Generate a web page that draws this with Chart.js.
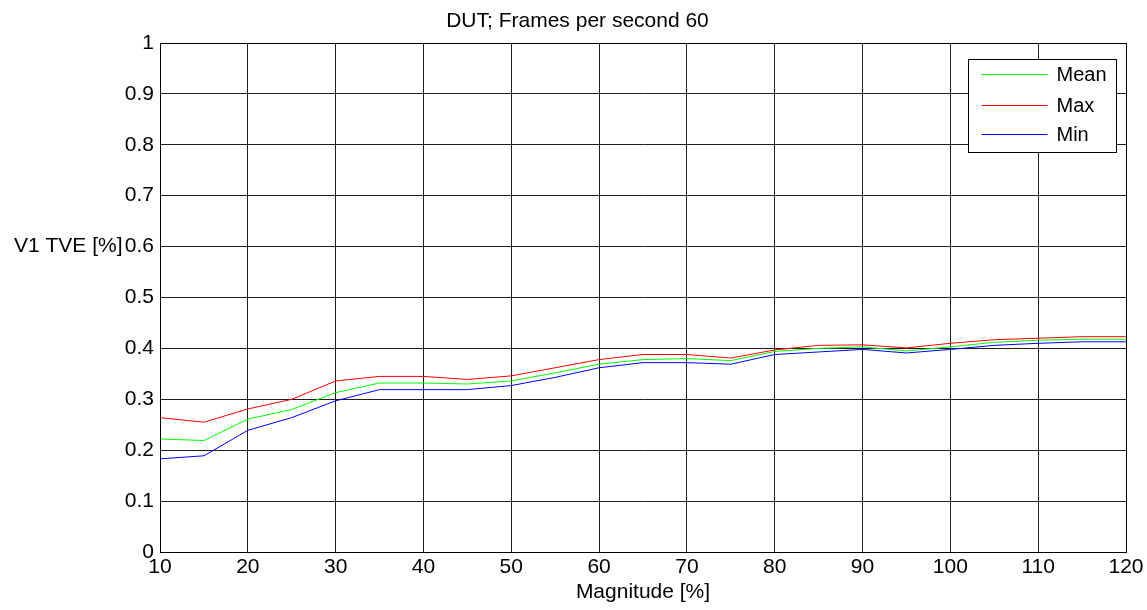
<!DOCTYPE html>
<html>
<head>
<meta charset="utf-8">
<title>DUT; Frames per second 60</title>
<script src="https://cdn.jsdelivr.net/npm/chart.js@4.4.1/dist/chart.umd.min.js"></script>
<style>
  html, body { margin: 0; padding: 0; background: #fff; }
  #wrap { width: 1147px; height: 610px; }
</style>
</head>
<body>
<div id="wrap"><canvas id="tveChart" width="1147" height="610"></canvas></div>
<script>
// Magnitude [%] steps and the TVE statistics measured at each one
const magnitude = [10, 15, 20, 25, 30, 35, 40, 45, 50, 55, 60, 65, 70, 75, 80, 85, 90, 95, 100, 105, 110, 115, 120];
const tveMean = [0.222, 0.219, 0.261, 0.280, 0.313, 0.332, 0.332, 0.330, 0.336, 0.352, 0.369, 0.378, 0.380, 0.376, 0.394, 0.400, 0.403, 0.395, 0.403, 0.412, 0.416, 0.418, 0.418];
const tveMax  = [0.264, 0.255, 0.281, 0.300, 0.336, 0.345, 0.345, 0.339, 0.346, 0.362, 0.378, 0.388, 0.388, 0.381, 0.397, 0.406, 0.407, 0.401, 0.410, 0.417, 0.420, 0.423, 0.423];
const tveMin  = [0.183, 0.189, 0.239, 0.264, 0.297, 0.319, 0.319, 0.319, 0.327, 0.343, 0.362, 0.372, 0.372, 0.369, 0.388, 0.393, 0.398, 0.391, 0.398, 0.406, 0.410, 0.413, 0.413];

const seriesNames = ['Mean', 'Max', 'Min'];
const chartTitle = 'DUT; Frames per second 60';
const xTitle = 'Magnitude [%]';
const yTitle = 'V1 TVE [%]';

const FONT = '"Liberation Sans", Arial, Helvetica, sans-serif';
const GRID = '#1e1e1e';

function toPoints(ys) {
    return ys.map((v, i) => ({ x: magnitude[i], y: v }));
}

// title, box around the axes, horizontal y label and the framed legend
const matlabFrame = {
    id: 'matlabFrame',
    afterDraw(chart) {
        const ctx = chart.ctx;
        const a = chart.chartArea;
        ctx.save();

        ctx.strokeStyle = '#000';
        ctx.lineWidth = 1;
        ctx.strokeRect(Math.round(a.left) + 0.5, Math.round(a.top) + 0.5,
                       Math.round(a.right - a.left), Math.round(a.bottom - a.top));

        ctx.fillStyle = '#000';
        ctx.font = '21px ' + FONT;
        ctx.textBaseline = 'middle';
        ctx.textAlign = 'center';
        ctx.fillText(chartTitle, chart.width / 2 + 4, 21);

        ctx.textAlign = 'left';
        ctx.fillText(yTitle, 14, a.top + (a.bottom - a.top) * 0.4);

        // legend
        const boxW = 148, boxH = 93;
        const bx = Math.round(a.right - 10 - boxW) + 0.5;
        const by = Math.round(a.top + 16) + 0.5;
        ctx.fillStyle = '#fff';
        ctx.fillRect(bx, by, boxW, boxH);
        ctx.strokeStyle = '#000';
        ctx.strokeRect(bx, by, boxW, boxH);

        ctx.font = '20px ' + FONT;
        const rows = [14, 45, 74];
        chart.data.datasets.forEach((ds, i) => {
            const y = Math.round(by + rows[i]) + 0.5;
            ctx.strokeStyle = ds.borderColor;
            ctx.beginPath();
            ctx.moveTo(bx + 13, y);
            ctx.lineTo(bx + 79, y);
            ctx.stroke();
            ctx.fillStyle = '#000';
            ctx.fillText(ds.label, bx + 88, y + 1);
        });
        ctx.restore();
    }
};

const chart = new Chart(document.getElementById('tveChart').getContext('2d'), {
    type: 'line',
    data: {
        datasets: [
            { label: seriesNames[0], data: toPoints(tveMean), borderColor: '#00ff00' },
            { label: seriesNames[1], data: toPoints(tveMax),  borderColor: '#ff0000' },
            { label: seriesNames[2], data: toPoints(tveMin),  borderColor: '#0000ff' }
        ]
    },
    options: {
        responsive: false,
        animation: false,
        events: [],
        elements: {
            line: { borderWidth: 1, tension: 0, fill: false },
            point: { radius: 0 }
        },
        layout: { padding: { left: 0, right: 21, top: 43, bottom: 0 } },
        plugins: {
            legend: { display: false },
            tooltip: { enabled: false },
            title: { display: false }
        },
        scales: {
            x: {
                type: 'linear',
                min: 10,
                max: 120,
                ticks: {
                    stepSize: 10,
                    color: '#000',
                    padding: 3,
                    maxRotation: 0,
                    font: { family: FONT, size: 21 }
                },
                grid: { color: GRID, lineWidth: 1, drawTicks: false },
                border: { color: '#000', width: 1 },
                title: {
                    display: true,
                    text: xTitle,
                    color: '#000',
                    font: { family: FONT, size: 21 },
                    padding: { top: 0, bottom: 5 }
                },
                afterFit(scale) { scale.height = 58; }
            },
            y: {
                min: 0,
                max: 1,
                ticks: {
                    stepSize: 0.1,
                    color: '#000',
                    padding: 6,
                    font: { family: FONT, size: 21 },
                    callback: v => String(Math.round(v * 10) / 10)
                },
                grid: { color: GRID, lineWidth: 1, drawTicks: false },
                border: { color: '#000', width: 1 },
                afterFit(scale) { scale.width = 160; }
            }
        }
    },
    plugins: [matlabFrame]
});
</script>
</body>
</html>
